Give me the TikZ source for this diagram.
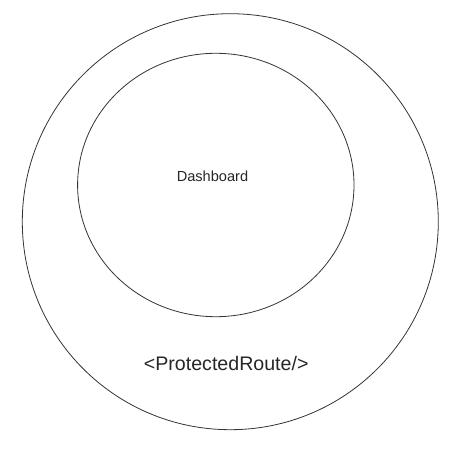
\documentclass[tikz,border=0pt]{standalone}
\usepackage{fontspec}
\setmainfont{Liberation Sans}
\usetikzlibrary{shapes.geometric}

\tikzset{
	ring/.style={draw=black!80, line width=0.8pt, inner sep=0pt, outer sep=0pt},
}

\begin{document}
\begin{tikzpicture}[x=1pt, y=-1pt]
	\useasboundingbox (0,0) rectangle (453,449);
	\node[ring, circle, minimum size=416pt] (route) at (230.3,221.7) {};
	\node[ring, ellipse, minimum width=276.4pt, minimum height=263.4pt] (dash) at (215.8,185) {};
	\node[font=\fontsize{14.6}{17}\selectfont, text=black!85] (dashlabel) at (212.5,176) {Dashboard};
	\node[font=\fontsize{19.6}{23}\selectfont, text=black!85] (routelabel) at (226.2,363) {<ProtectedRoute/>};
\end{tikzpicture}
\end{document}
